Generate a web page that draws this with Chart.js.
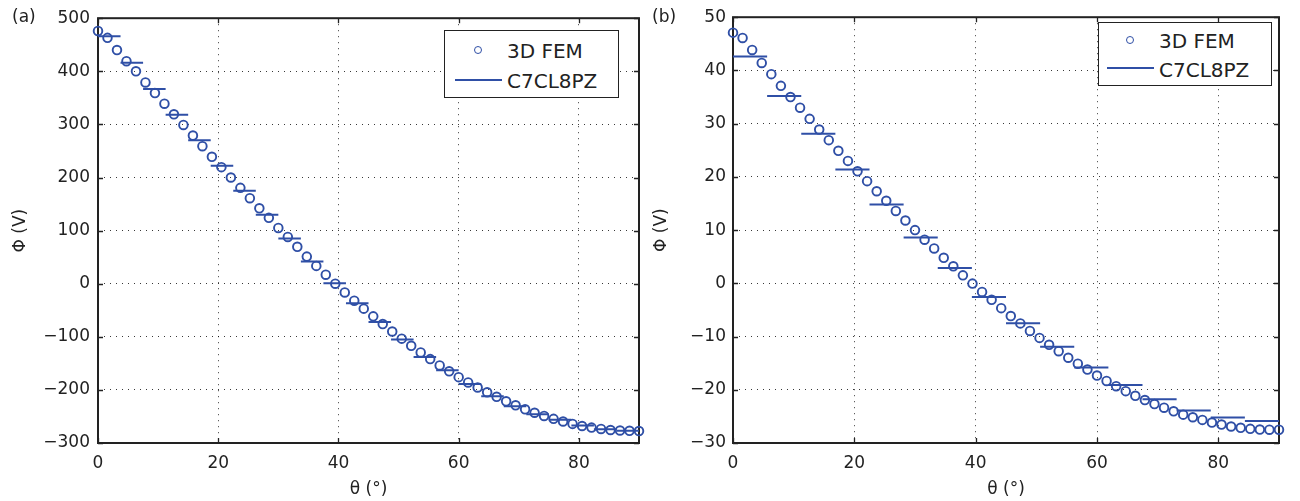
<!DOCTYPE html>
<html><head><meta charset="utf-8">
<script src="https://cdn.jsdelivr.net/npm/chart.js@4.4.0/dist/chart.umd.min.js"></script>
<style>
html,body{margin:0;padding:0;background:#fff;width:1300px;height:501px;overflow:hidden;font-family:'DejaVu Sans',sans-serif;color:#222}
canvas{position:absolute;top:0}
#ca{left:0}
#cb{left:650px}
.lab{position:absolute;font-size:17px;line-height:20px;white-space:nowrap}
.leg{position:absolute;border:1.6px solid #222;background:#fff;box-sizing:border-box}
.lt{position:absolute;font-size:20px;line-height:24px;white-space:nowrap;color:#222}
.lc{position:absolute;width:8px;height:8px;border:1.8px solid #2f4fa6;border-radius:50%;box-sizing:border-box}
.ll{position:absolute;height:2px;background:#2f4fa6}
</style></head>
<body>
<canvas id="ca" width="650" height="501"></canvas>
<canvas id="cb" width="650" height="501"></canvas>

<div class="lab" style="left:12px;top:6px">(a)</div>
<div class="lab" style="left:652px;top:6px">(b)</div>

<div class="leg" style="left:444px;top:30px;width:175px;height:68px"></div>
<div class="lc" style="left:474px;top:46px"></div>
<div class="lt" style="left:507px;top:39px">3D FEM</div>
<div class="ll" style="left:455px;top:79px;width:47px"></div>
<div class="lt" style="left:507px;top:68.5px">C7CL8PZ</div>

<div class="leg" style="left:1098px;top:22px;width:174px;height:64px"></div>
<div class="lc" style="left:1126px;top:35.5px"></div>
<div class="lt" style="left:1159px;top:29px">3D FEM</div>
<div class="ll" style="left:1107px;top:67px;width:47px"></div>
<div class="lt" style="left:1159px;top:57.5px">C7CL8PZ</div>

<script>
// ---- data ----
const thetaMax = 90;
const xTicks = [0, 20, 40, 60, 80];

const yTicksA = [-300, -200, -100, 0, 100, 200, 300, 400, 500];
const yTicksB = [-30, -20, -10, 0, 10, 20, 30, 40, 50];

const femA = [476, 463, 440, 419, 400, 379, 359, 339, 319, 299, 279, 259, 239, 219.5, 200, 180.5, 161, 142, 124, 105,
  88, 69.5, 51, 33.5, 17, 0, -16.5, -32, -47, -61.5, -76, -90, -103.5, -117, -129.5, -142, -154, -165, -176, -186,
  -195.5, -204.5, -213, -221.5, -229, -236.5, -243, -249, -254.5, -259.5, -264, -268, -271, -273.5, -275.5, -276.5, -277, -277.5];

const segA = [466, 416, 366.5, 318, 270, 222, 175, 130, 85, 42, 1, -37, -72, -105, -138, -163, -189, -212, -231, -246, -256, -267, -274, -277];

const femB = [47.1, 46.1, 43.85, 41.4, 39.3, 37.1, 35.0, 33.0, 30.9, 28.9, 26.9, 24.9, 23.0, 21.05, 19.2, 17.3, 15.5, 13.6, 11.8, 10.0,
  8.2, 6.55, 4.8, 3.2, 1.5, -0.05, -1.62, -3.1, -4.66, -6.15, -7.53, -8.95, -10.25, -11.55, -12.75, -13.98, -15.1, -16.2, -17.33, -18.34,
  -19.33, -20.26, -21.13, -21.93, -22.68, -23.37, -24.04, -24.67, -25.16, -25.66, -26.16, -26.53, -26.9, -27.15, -27.34, -27.47, -27.5, -27.5];

const segB = [42.6, 35.2, 28.1, 21.4, 14.8, 8.6, 2.9, -2.55, -7.5, -11.9, -15.8, -19.1, -21.8, -23.9, -25.2, -25.85];

// ---- helpers ----
const BLUE = '#2f4fa6';
function femPoints(vals) {
  return vals.map((v, i) => ({x: i * thetaMax / (vals.length - 1), y: v}));
}
function segPoints(vals) {
  const n = vals.length, out = [];
  vals.forEach((v, k) => {
    out.push({x: k * thetaMax / n, y: v});
    out.push({x: (k + 1) * thetaMax / n, y: v});
    out.push({x: (k + 1) * thetaMax / n, y: null});
  });
  return out;
}
const fmt = v => v < 0 ? '\u2212' + Math.abs(v) : String(v);

Chart.defaults.font.family = "'DejaVu Sans', sans-serif";
Chart.defaults.font.size = 17;
Chart.defaults.color = '#222';

const boxPlugin = {
  id: 'box',
  beforeDatasetsDraw(chart) {
    const {ctx, chartArea: a, scales: {x, y}} = chart;
    ctx.save();
    ctx.strokeStyle = '#222';
    ctx.lineWidth = 1.3;
    ctx.beginPath();
    x.ticks.forEach(t => {
      const p = Math.round(x.getPixelForValue(t.value)) + 0.5;
      ctx.moveTo(p, a.bottom); ctx.lineTo(p, a.bottom - 5);
      ctx.moveTo(p, a.top); ctx.lineTo(p, a.top + 5);
    });
    y.ticks.forEach(t => {
      const p = Math.round(y.getPixelForValue(t.value)) + 0.5;
      ctx.moveTo(a.left, p); ctx.lineTo(a.left + 5, p);
      ctx.moveTo(a.right, p); ctx.lineTo(a.right - 5, p);
    });
    ctx.stroke();
    ctx.lineWidth = 2;
    ctx.strokeRect(a.left, a.top, a.right - a.left, a.bottom - a.top);
    ctx.restore();
  }
};

function makeChart(id, fem, seg, yTicks, yWidth, padRight, yTickPad, yTitlePad) {
  new Chart(document.getElementById(id), {
    type: 'scatter',
    data: {
      datasets: [
        {label: '3D FEM', data: femPoints(fem), showLine: false, pointStyle: 'circle',
         pointRadius: 4.3, pointHoverRadius: 4.3, pointBorderWidth: 1.9, borderColor: BLUE,
         backgroundColor: 'rgba(0,0,0,0)', clip: false},
        {label: 'C7CL8PZ', type: 'line', data: segPoints(seg), showLine: true, spanGaps: false,
         pointRadius: 0, borderWidth: 2, borderColor: BLUE, fill: false, tension: 0}
      ]
    },
    options: {
      responsive: false, animation: false, devicePixelRatio: 1,
      layout: {padding: {left: 0, right: padRight, top: 14, bottom: 0}},
      plugins: {legend: {display: false}, tooltip: {enabled: false}},
      scales: {
        x: {
          type: 'linear', min: 0, max: thetaMax,
          afterBuildTicks: s => { s.ticks = xTicks.map(v => ({value: v})); },
          afterFit: s => { s.height = 58; },
          grid: {color: 'rgba(0,0,0,0.78)', lineWidth: 1, drawTicks: false},
          border: {display: false, dash: [1, 5]},
          ticks: {padding: 10, color: '#222', font: {size: 17}, maxRotation: 0, callback: fmt},
          title: {display: true, text: '\u03b8 (\u00b0)', color: '#222', font: {size: 17}, padding: {top: 0, bottom: 1}}
        },
        y: {
          type: 'linear', min: yTicks[0], max: yTicks[yTicks.length - 1],
          afterBuildTicks: s => { s.ticks = yTicks.map(v => ({value: v})); },
          afterFit: s => { s.width = yWidth; },
          grid: {color: 'rgba(0,0,0,0.78)', lineWidth: 1, drawTicks: false},
          border: {display: false, dash: [1, 5]},
          ticks: {padding: yTickPad, color: '#222', font: {size: 17}, callback: fmt},
          title: {display: true, text: '\u03a6 (V)', color: '#222', font: {size: 17}, padding: {top: yTitlePad, bottom: 0}}
        }
      }
    },
    plugins: [boxPlugin]
  });
}

makeChart('ca', femA, segA, yTicksA, 98, 11, 8, 10);
makeChart('cb', femB, segB, yTicksB, 83, 21, 7, 1);
</script>
</body></html>
